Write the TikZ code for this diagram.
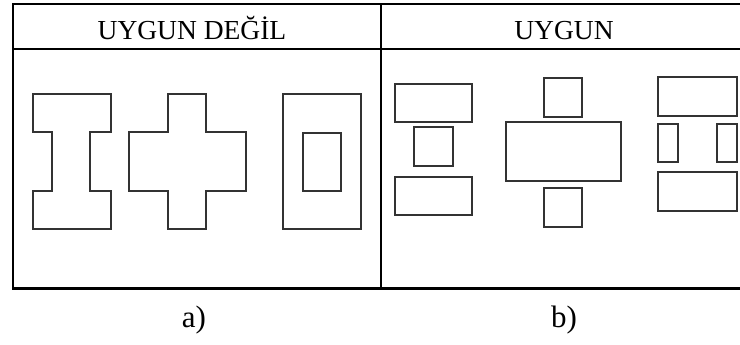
\documentclass[tikz,border=0pt]{standalone}
\usepackage{fontspec}
\setmainfont{Liberation Serif}
\begin{document}
\begin{tikzpicture}[x=1pt,y=-1pt,
  tbl/.style={line width=2.2pt,black},
  shp/.style={line width=1.5pt,black!80},
  lbl/.style={font=\fontsize{27.5}{32}\selectfont,inner sep=0pt,anchor=base},
  sub/.style={font=\fontsize{31}{36}\selectfont,inner sep=0pt,anchor=base}]
\useasboundingbox (0,0) rectangle (740,345);
\fill[white] (0,0) rectangle (740,345);
% table
\draw[tbl] (740,4) -- (13,4) -- (13,288.5) -- (740,288.5);
\draw[tbl] (13,49) -- (740,49);
\draw[tbl] (381,4) -- (381,288.5);
\node[lbl] (h1) at (192,40) {UYGUN DEĞİL};
\node[lbl] (h2) at (564,40) {UYGUN};
\node[sub] (la) at (194,327) {a)};
\node[sub] (lb) at (564,327) {b)};
% I shape
\draw[shp] (33,94) -- (111,94) -- (111,132) -- (90,132) -- (90,191) -- (111,191) -- (111,229)
  -- (33,229) -- (33,191) -- (52,191) -- (52,132) -- (33,132) -- cycle;
% cross
\draw[shp] (168,94) -- (206,94) -- (206,132) -- (246,132) -- (246,191) -- (206,191) -- (206,229)
  -- (168,229) -- (168,191) -- (129,191) -- (129,132) -- (168,132) -- cycle;
% rect with hole
\draw[shp] (283,94) rectangle (361,229);
\draw[shp] (303,133) rectangle (341,191);
% group 1
\draw[shp] (395,84) rectangle (472,122);
\draw[shp] (414,127) rectangle (453,166);
\draw[shp] (395,177) rectangle (472,215);
% group 2
\draw[shp] (544,78) rectangle (582,117);
\draw[shp] (506,122) rectangle (621,181);
\draw[shp] (544,188) rectangle (582,227);
% group 3
\draw[shp] (658,77) rectangle (737,116);
\draw[shp] (658,124) rectangle (678,162);
\draw[shp] (717,124) rectangle (737,162);
\draw[shp] (658,172) rectangle (737,211);
\end{tikzpicture}
\end{document}
